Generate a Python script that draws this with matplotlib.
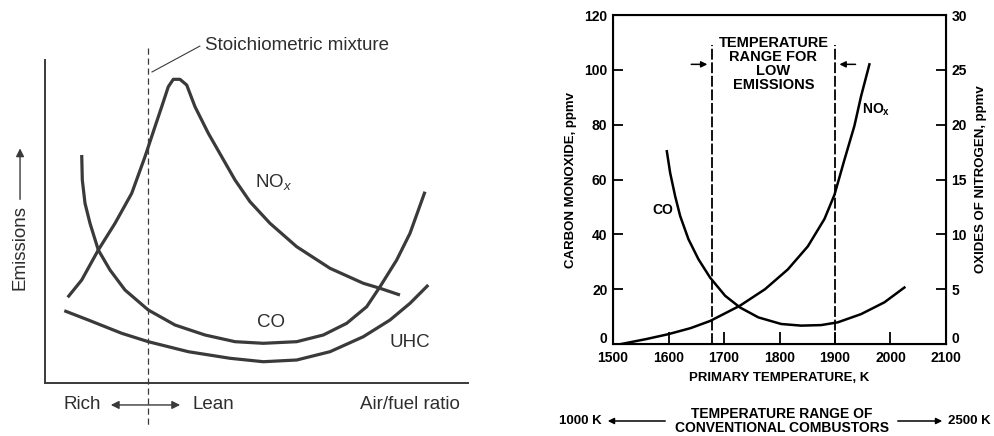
import matplotlib
matplotlib.use("Agg")
import matplotlib.pyplot as plt
from matplotlib.patches import FancyArrowPatch
from matplotlib.transforms import ScaledTranslation

plt.rcParams['font.family'] = ['Liberation Sans', 'DejaVu Sans']
plt.rcParams['mathtext.fontset'] = 'custom'
plt.rcParams['mathtext.rm'] = 'Liberation Sans'
plt.rcParams['mathtext.it'] = 'Liberation Sans:italic'
plt.rcParams['mathtext.bf'] = 'Liberation Sans:bold'

# ---- left panel: schematic emissions vs air/fuel ratio (arbitrary units 0-100)
nox_x = [5.37, 8.68, 12.60, 16.55, 20.50, 23.64, 26.00, 27.59, 29.15, 30.33, 31.91, 33.50,
         35.46, 38.61, 41.77, 44.92, 48.46, 53.19, 59.50, 67.38, 75.25, 79.20, 83.92]
nox_y = [26.53, 31.89, 41.18, 49.44, 58.73, 70.06, 79.35, 85.54, 91.73, 94.02, 94.02, 92.26,
         85.54, 77.31, 70.06, 62.85, 56.13, 49.44, 42.20, 35.51, 30.87, 29.32, 27.24]
co_x = [8.68, 8.82, 9.46, 10.64, 12.60, 15.37, 18.91, 24.42, 30.73, 37.83, 44.92, 51.61,
        59.50, 65.79, 71.32, 76.05, 79.20, 83.14, 86.29, 89.83]
co_y = [70.59, 62.85, 55.63, 49.44, 41.18, 34.98, 28.79, 22.60, 17.96, 14.86, 12.79, 12.29,
        12.79, 14.86, 18.48, 23.62, 29.81, 38.08, 46.35, 59.23]
uhc_x = [4.56, 10.24, 18.13, 24.42, 33.88, 43.74, 51.61, 59.50, 67.38, 75.25, 81.56, 86.29,
         90.61]
uhc_y = [22.38, 19.50, 15.39, 12.79, 9.69, 7.65, 6.59, 7.12, 9.69, 14.33, 19.50, 24.67,
         30.34]
stoich_x = 24.3

# ---- right panel: CO and NOx vs primary temperature
co_T = [1597, 1603, 1612, 1621, 1636, 1654, 1675, 1702, 1729, 1762, 1803, 1839, 1875, 1905,
        1947, 1989, 2025]
co_ppm = [70.3, 62.4, 53.9, 46.7, 38.2, 30.9, 24.2, 17.6, 13.3, 9.7, 7.3, 6.7, 6.9, 7.9,
          10.9, 15.2, 20.6]
nox_T = [1515, 1560, 1600, 1640, 1675, 1729, 1774, 1815, 1851, 1881, 1899, 1917, 1935, 1947,
         1962]
nox_ppm = [0.0, 0.45, 0.9, 1.45, 2.1, 3.5, 5.0, 6.8, 8.9, 11.4, 13.6, 16.8, 19.9, 22.6, 25.5]
low_range = [1678, 1900]
xticks = [1500, 1600, 1700, 1800, 1900, 2000, 2100]
co_ticks = [0, 20, 40, 60, 80, 100, 120]
nox_ticks = [0, 5, 10, 15, 20, 25, 30]

fig = plt.figure(figsize=(9.95, 4.36), dpi=100)

grey = '#3a3a3a'
tgrey = '#2e2e2e'
axL = fig.add_axes([45/995, 53/436, 423/995, 323/436])
axL.set_xlim(0, 100)
axL.set_ylim(0, 100)
for s in ['top', 'right']:
    axL.spines[s].set_visible(False)
for s in ['left', 'bottom']:
    axL.spines[s].set_linewidth(1.4)
    axL.spines[s].set_color(grey)
axL.set_xticks([])
axL.set_yticks([])
axL.patch.set_alpha(0)

lw = 2.3
for xs, ys in [(nox_x, nox_y), (co_x, co_y), (uhc_x, uhc_y)]:
    axL.plot(xs, ys, color=grey, lw=lw, solid_capstyle='butt', solid_joinstyle='round')
axL.plot([stoich_x, stoich_x], [103.7, -13.9], color=grey, lw=0.9, ls=(0, (5, 3)),
         clip_on=False)
axL.plot([25.3, 36.6], [96.3, 104.3], color=grey, lw=0.8, clip_on=False)
fs = 13.5
axL.text(37.8, 104.6, 'Stoichiometric mixture', fontsize=fs, color=tgrey, va='center',
         ha='left', clip_on=False)
axL.text(49.6, 62.2, r'NO$_{\mathit{x}}$', fontsize=fs, color=tgrey, va='center', ha='left')
axL.text(53.4, 18.6, 'CO', fontsize=fs, color=tgrey, va='center', ha='center')
axL.text(86.3, 12.4, 'UHC', fontsize=fs, color=tgrey, va='center', ha='center')
axL.text(4.3, -6.8, 'Rich', fontsize=fs, color=tgrey, va='center', ha='left', clip_on=False)
axL.annotate('', xy=(14.9, -6.8), xytext=(32.6, -6.8),
             arrowprops=dict(arrowstyle='<|-|>', color=grey, lw=1.0, mutation_scale=12),
             annotation_clip=False)
axL.text(34.8, -6.8, 'Lean', fontsize=fs, color=tgrey, va='center', ha='left', clip_on=False)
axL.text(74.5, -6.8, 'Air/fuel ratio', fontsize=fs, color=tgrey, va='center', ha='left',
         clip_on=False)
axL.text(-5.9, 41.8, 'Emissions', fontsize=fs, color=tgrey, va='center', ha='center',
         rotation=90, clip_on=False)
axL.annotate('', xy=(-5.9, 73.5), xytext=(-5.9, 56.0),
             arrowprops=dict(arrowstyle='-|>', color=grey, lw=1.0, mutation_scale=12),
             annotation_clip=False)

# ---- right panel
ax = fig.add_axes([613/995, 92/436, 333/995, 329/436])
ax.set_xlim(1500, 2100)
ax.set_ylim(0, 120)
ax.set_xticks(xticks)
ax.set_yticks(co_ticks)
for s in ax.spines.values():
    s.set_linewidth(1.5)
bf = dict(fontweight='bold', fontsize=9.5)
ax.tick_params(direction='in', length=7, width=1.3, pad=4, labelsize=10)
ax.tick_params(axis='x', length=9, pad=5)
for lab in ax.get_xticklabels() + ax.get_yticklabels():
    lab.set_fontweight('bold')
ax.set_xlabel('PRIMARY TEMPERATURE, K', labelpad=5, **bf)
ax.set_ylabel('CARBON MONOXIDE, ppmv', labelpad=5, **bf)

ax2 = ax.twinx()
ax2.set_ylim(0, 30)
ax2.set_yticks(nox_ticks)
ax2.tick_params(direction='in', length=7, width=1.3, pad=4, labelsize=10)
for lab in ax2.get_yticklabels():
    lab.set_fontweight('bold')
ax2.set_ylabel('OXIDES OF NITROGEN, ppmv', labelpad=6, **bf)
ax2.yaxis.label.set_rotation(90)

# lift the corner "0" labels above the 1500 / 2100 labels, as in the original
lift = ScaledTranslation(0, 7/100, fig.dpi_scale_trans)
ax.get_yticklabels()[0].set_transform(ax.get_yticklabels()[0].get_transform() + lift)
ax2.get_yticklabels()[0].set_transform(ax2.get_yticklabels()[0].get_transform() + lift)

ax.plot(co_T, co_ppm, color='k', lw=1.8, solid_joinstyle='round')
ax2.plot(nox_T, nox_ppm, color='k', lw=1.8, solid_joinstyle='round')
for t in low_range:
    ax.plot([t, t], [0, 109], color='k', lw=1.3, ls=(0, (6, 1.5)))
ax.annotate('', xy=(1675, 102), xytext=(1636, 102),
            arrowprops=dict(arrowstyle='-|>', color='k', lw=1.1, mutation_scale=9))
ax.annotate('', xy=(1903, 102), xytext=(1942, 102),
            arrowprops=dict(arrowstyle='-|>', color='k', lw=1.1, mutation_scale=9))
ax.text(1789, 112.5, 'TEMPERATURE\nRANGE FOR\nLOW\nEMISSIONS', ha='center', va='top',
        linespacing=1.0, fontweight='bold', fontsize=10.5)
ax.text(1590, 49, 'CO', ha='center', va='center', fontweight='bold', fontsize=10)
ax.text(1975, 85.5, r'NO$_{\mathbf{x}}$', ha='center', va='center', fontweight='bold',
        fontsize=10)

# bottom strip
fig.text(602/995, 15/436, '1000 K', ha='right', va='center', **bf)
fig.text(782/995, 15/436, 'TEMPERATURE RANGE OF\nCONVENTIONAL COMBUSTORS', ha='center',
         va='center', linespacing=1.0, fontweight='bold', fontsize=10)
fig.text(948/995, 15/436, '2500 K', ha='left', va='center', **bf)
fig.patches.append(FancyArrowPatch(
    (668/995, 15/436), (605/995, 15/436), transform=fig.transFigure,
    arrowstyle='-|>', mutation_scale=9, lw=1.1, color='k'))
fig.patches.append(FancyArrowPatch(
    (895/995, 15/436), (945/995, 15/436), transform=fig.transFigure,
    arrowstyle='-|>', mutation_scale=9, lw=1.1, color='k'))

fig.savefig('out.png', dpi=100)
